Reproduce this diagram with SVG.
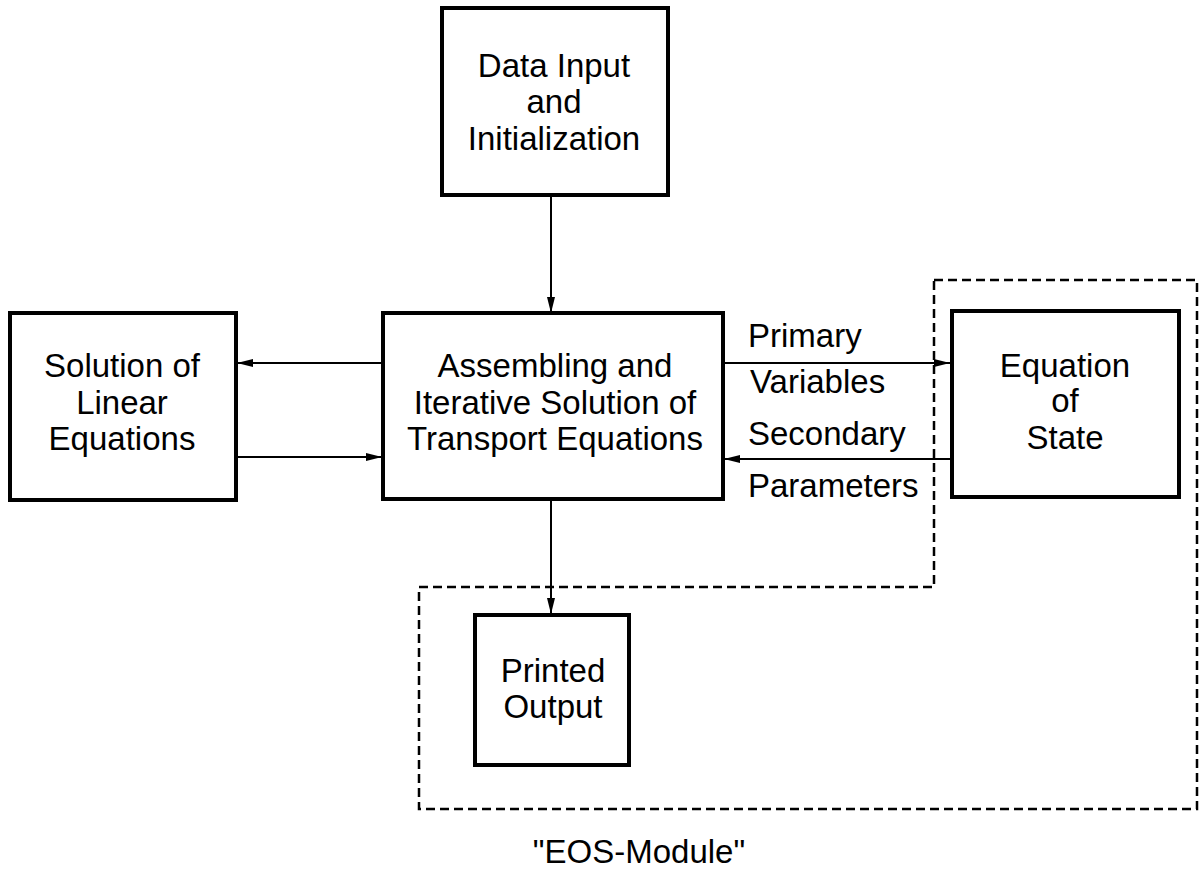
<svg xmlns="http://www.w3.org/2000/svg" width="1199" height="871" viewBox="0 0 1199 871">
  <defs>
    <marker id="arrow" viewBox="0 0 16 8" refX="16" refY="4" markerWidth="16" markerHeight="8" markerUnits="userSpaceOnUse" orient="auto">
      <path d="M0,0 L16,4 L0,8 Z" fill="#000"/>
    </marker>
    <style>
      .box { fill: #fff; stroke: #000; stroke-width: 4; }
      .lbl { font-family: "Liberation Sans", Arial, Helvetica, sans-serif; font-size: 33px; fill: #000; }
      .mid { text-anchor: middle; }
      .conn { fill: none; stroke: #000; stroke-width: 2; marker-end: url(#arrow); }
      .module { fill: none; stroke: #000; stroke-width: 2.5; stroke-dasharray: 9 5; }
    </style>
  </defs>
  <rect width="1199" height="871" fill="#fff"/>

  <!-- EOS module boundary -->
  <g id="eos-module">
    <path class="module" d="M934,280 L1197,280 L1197,809 L419,809 L419,587 L934,587 Z"/>
    <text class="lbl mid" x="639" y="863">"EOS-Module"</text>
  </g>

  <!-- connectors -->
  <g id="connectors">
    <line class="conn" x1="551" y1="195" x2="551" y2="313"/>
    <line class="conn" x1="383" y1="363" x2="237" y2="363"/>
    <line class="conn" x1="236" y1="457" x2="382" y2="457"/>
    <line class="conn" x1="723" y1="363" x2="950" y2="363"/>
    <line class="conn" x1="952" y1="459" x2="724" y2="459"/>
    <line class="conn" x1="551" y1="499" x2="551" y2="614"/>
    <text class="lbl" x="748" y="347">Primary</text>
    <text class="lbl" x="750" y="393">Variables</text>
    <text class="lbl" x="748" y="445">Secondary</text>
    <text class="lbl" x="748" y="497">Parameters</text>
  </g>

  <g id="data-input">
    <rect class="box" x="442" y="8" width="226" height="187"/>
    <text class="lbl mid" x="554" y="77">Data Input</text>
    <text class="lbl mid" x="554" y="113">and</text>
    <text class="lbl mid" x="554" y="150">Initialization</text>
  </g>

  <g id="assembling">
    <rect class="box" x="383" y="313" width="340" height="186"/>
    <text class="lbl mid" x="555" y="377">Assembling and</text>
    <text class="lbl mid" x="555" y="414">Iterative Solution of</text>
    <text class="lbl mid" x="555" y="450">Transport Equations</text>
  </g>

  <g id="linear-solver">
    <rect class="box" x="10" y="313" width="226" height="187"/>
    <text class="lbl mid" x="122" y="377">Solution of</text>
    <text class="lbl mid" x="122" y="414">Linear</text>
    <text class="lbl mid" x="122" y="450">Equations</text>
  </g>

  <g id="equation-of-state">
    <rect class="box" x="952" y="311" width="227" height="186"/>
    <text class="lbl mid" x="1065" y="377">Equation</text>
    <text class="lbl mid" x="1065" y="412">of</text>
    <text class="lbl mid" x="1065" y="449">State</text>
  </g>

  <g id="printed-output">
    <rect class="box" x="475" y="615" width="154" height="150"/>
    <text class="lbl mid" x="553" y="682">Printed</text>
    <text class="lbl mid" x="553" y="718">Output</text>
  </g>
</svg>
